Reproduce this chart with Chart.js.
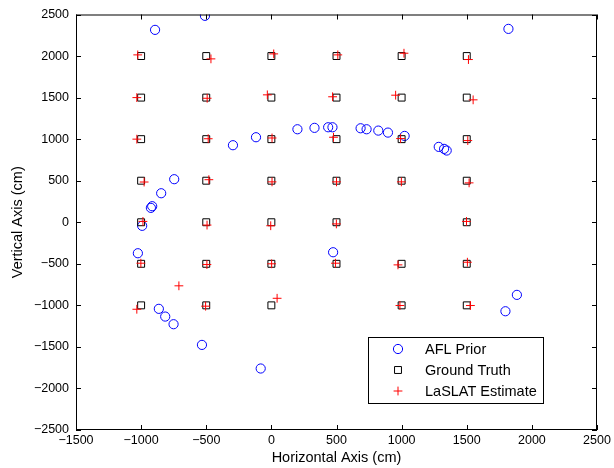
<!DOCTYPE html>
<html>
<head>
<meta charset="utf-8">
<script src="https://cdn.jsdelivr.net/npm/chart.js@4.4.1/dist/chart.umd.min.js"></script>
<style>
  html, body { margin: 0; padding: 0; background: #fff; }
  #wrap { width: 614px; height: 468px; }
</style>
</head>
<body>
<div id="wrap"><canvas id="chart" width="614" height="468"></canvas></div>
<script>
// --- Data (cm) ---
const xTicks = [-1500, -1000, -500, 0, 500, 1000, 1500, 2000, 2500];
const yTicks = [-2500, -2000, -1500, -1000, -500, 0, 500, 1000, 1500, 2000, 2500];

const seriesNames = ["AFL Prior", "Ground Truth", "LaSLAT Estimate"];

const aflPrior = [
  [-893, 2315], [-510, 2484], [1820, 2327],
  [-295, 927], [-118, 1023], [200, 1119], [331, 1136], [436, 1143], [469, 1143],
  [685, 1131], [731, 1119], [821, 1103], [895, 1079], [1023, 1039],
  [1285, 907], [1326, 883], [1346, 863],
  [-746, 518], [-846, 349], [-915, 193], [-925, 173],
  [-992, -43], [-1025, -373],
  [-864, -1042], [-815, -1135], [-751, -1227], [-533, -1476],
  [-82, -1760], [474, -361], [1885, -874], [1797, -1071],
];

const groundTruth = [
  [-1000, 2000], [-500, 2000], [0, 2000], [500, 2000], [1000, 2000], [1500, 2000],
  [-1000, 1500], [-500, 1500], [0, 1500], [500, 1500], [1000, 1500], [1500, 1500],
  [-1000, 1000], [-500, 1000], [0, 1000], [500, 1000], [1000, 1000], [1500, 1000],
  [-1000, 500], [-500, 500], [0, 500], [500, 500], [1000, 500], [1500, 500],
  [-1000, 0], [-500, 0], [0, 0], [500, 0], [1500, 0],
  [-1000, -500], [-500, -500], [0, -500], [500, -500], [1000, -500], [1500, -500],
  [-1000, -1000], [-500, -1000], [0, -1000], [1000, -1000], [1500, -1000],
];

const laslatEstimate = [
  [-1026, 2014], [-464, 1966], [18, 2026], [510, 2014], [1018, 2034], [1513, 1958],
  [-1033, 1500], [-493, 1492], [-31, 1533], [470, 1510], [954, 1529], [1549, 1473],
  [-1033, 1000], [-485, 1005], [5, 1014], [477, 1023], [992, 1007], [1508, 983],
  [-977, 484], [-480, 512], [5, 486], [500, 486], [998, 486], [1518, 474],
  [-986, 10], [-494, -34], [-5, -42], [499, -20], [1498, 10],
  [-1002, -493], [-495, -509], [2, -500], [492, -493], [972, -513], [1505, -481],
  [-1033, -1047], [-505, -1010], [44, -915], [987, -1002], [1528, -1002],
  [-710, -765],
];

const toPoints = (pairs) => pairs.map(([x, y]) => ({ x, y }));
const fmt = (v) => (v < 0 ? "\u2212" + Math.abs(v) : String(v));
const FONT = "'Liberation Sans', Arial, Helvetica, sans-serif";

const markers = [
  { style: "circle", color: "#0000ff", radius: 4.6 },
  { style: "rect", color: "#000000", radius: 4.9 },
  { style: "cross", color: "#ff0000", radius: 4.4 },
];

// --- MATLAB-like box, inward ticks and legend ---
const matlabAxes = {
  id: "matlabAxes",
  afterDraw(chart) {
    const { ctx, chartArea: a, scales } = chart;
    ctx.save();
    ctx.strokeStyle = "#000";
    ctx.lineWidth = 1;
    ctx.strokeRect(a.left + 0.5, a.top + 0.5, a.right - a.left - 1, a.bottom - a.top - 1);

    const len = 5;
    ctx.beginPath();
    xTicks.forEach((v) => {
      const px = Math.round(scales.x.getPixelForValue(v)) + 0.5;
      ctx.moveTo(px, a.bottom); ctx.lineTo(px, a.bottom - len);
      ctx.moveTo(px, a.top); ctx.lineTo(px, a.top + len);
    });
    yTicks.forEach((v) => {
      const py = Math.round(scales.y.getPixelForValue(v)) + 0.5;
      ctx.moveTo(a.left, py); ctx.lineTo(a.left + len, py);
      ctx.moveTo(a.right, py); ctx.lineTo(a.right - len, py);
    });
    ctx.stroke();

    // legend box
    const bx = a.right - 229, by = a.bottom - 93, bw = 175, bh = 66;
    ctx.fillStyle = "#fff";
    ctx.fillRect(bx, by, bw, bh);
    ctx.strokeRect(bx + 0.5, by + 0.5, bw, bh);
    ctx.font = "14.5px " + FONT;
    ctx.textBaseline = "middle";
    seriesNames.forEach((name, i) => {
      const cy = by + 12 + i * 21;
      const cx = bx + 30;
      const m = markers[i];
      ctx.strokeStyle = m.color;
      ctx.lineWidth = 1;
      ctx.beginPath();
      if (m.style === "circle") {
        ctx.arc(cx, cy, m.radius, 0, Math.PI * 2);
      } else if (m.style === "rect") {
        const h = m.radius * Math.SQRT1_2;
        ctx.rect(cx - h, cy - h, 2 * h, 2 * h);
      } else {
        ctx.moveTo(cx - m.radius, cy); ctx.lineTo(cx + m.radius, cy);
        ctx.moveTo(cx, cy - m.radius); ctx.lineTo(cx, cy + m.radius);
      }
      ctx.stroke();
      ctx.fillStyle = "#000";
      ctx.fillText(name, bx + 57, cy + 1);
    });
    ctx.restore();
  },
};

const makeDataset = (label, pairs, m, order) => ({
  label,
  data: toPoints(pairs),
  pointStyle: m.style,
  pointRadius: m.radius,
  pointHoverRadius: m.radius,
  pointBorderWidth: 1,
  borderColor: m.color,
  backgroundColor: "rgba(0,0,0,0)",
  showLine: false,
  order,
});

new Chart(document.getElementById("chart"), {
  type: "scatter",
  data: {
    datasets: [
      makeDataset(seriesNames[0], aflPrior, markers[0], 2),
      makeDataset(seriesNames[1], groundTruth, markers[1], 1),
      makeDataset(seriesNames[2], laslatEstimate, markers[2], 0),
    ],
  },
  options: {
    responsive: false,
    animation: false,
    devicePixelRatio: 1,
    layout: { padding: { top: 14, right: 17, left: 0, bottom: 0 } },
    plugins: { legend: { display: false }, tooltip: { enabled: false } },
    scales: {
      x: {
        type: "linear",
        min: xTicks[0],
        max: xTicks[xTicks.length - 1],
        afterBuildTicks: (scale) => { scale.ticks = xTicks.map((value) => ({ value })); },
        afterFit: (scale) => { scale.height = 38; },
        grid: { display: false, drawTicks: false },
        border: { display: false },
        ticks: {
          color: "#000",
          font: { family: FONT, size: 12.5 },
          padding: 3,
          maxRotation: 0,
          callback: (v) => fmt(v),
        },
        title: {
          display: true,
          text: "Horizontal Axis (cm)",
          color: "#000",
          font: { family: FONT, size: 14.5 },
          padding: { top: 0, bottom: 1 },
        },
      },
      y: {
        type: "linear",
        min: yTicks[0],
        max: yTicks[yTicks.length - 1],
        afterBuildTicks: (scale) => { scale.ticks = yTicks.map((value) => ({ value })); },
        afterFit: (scale) => { scale.width = 76; },
        grid: { display: false, drawTicks: false },
        border: { display: false },
        ticks: {
          color: "#000",
          font: { family: FONT, size: 12.5 },
          padding: 7,
          callback: (v) => fmt(v),
        },
        title: {
          display: true,
          text: "Vertical Axis (cm)",
          color: "#000",
          font: { family: FONT, size: 14.5 },
          padding: { top: 9, bottom: 0 },
        },
      },
    },
  },
  plugins: [matlabAxes],
});
</script>
</body>
</html>
